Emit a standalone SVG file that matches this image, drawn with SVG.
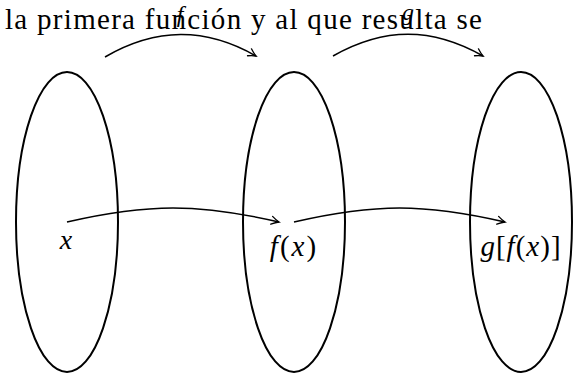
<svg xmlns="http://www.w3.org/2000/svg" width="582" height="375" viewBox="0 0 582 375">
  <style>
    .set { fill: none; stroke: #000; stroke-width: 2; }
    .arrow { fill: none; stroke: #000; stroke-width: 1.5; marker-end: url(#tip); }
    .it { font-style: italic; }
  </style>
  <defs>
    <marker id="tip" markerUnits="userSpaceOnUse" markerWidth="12" markerHeight="12" viewBox="-9 -6 10 12" refX="0" refY="0" orient="auto">
      <path d="M-7.5,-4 Q-3,-1 0,0 Q-3,1 -7.5,4" fill="none" stroke="#000" stroke-width="1.3" stroke-linecap="round"/>
    </marker>
  </defs>
  <rect width="582" height="375" fill="#fff"/>

  <g id="caption" font-family="Liberation Serif, DejaVu Serif, serif" font-size="29">
    <text x="5" y="29" textLength="477" lengthAdjust="spacing">la primera función y al que resulta se</text>
  </g>

  <g id="set-x" font-family="Liberation Serif, DejaVu Serif, serif" font-size="28">
    <ellipse class="set" cx="67" cy="222" rx="51" ry="150"/>
    <text class="it" x="66" y="249" text-anchor="middle">x</text>
  </g>

  <g id="set-fx" font-family="Liberation Serif, DejaVu Serif, serif" font-size="29">
    <ellipse class="set" cx="294" cy="222" rx="51" ry="150"/>
    <text x="294" y="256" text-anchor="middle" letter-spacing="2"><tspan class="it">f</tspan>(<tspan class="it">x</tspan>)</text>
  </g>

  <g id="set-gfx" font-family="Liberation Serif, DejaVu Serif, serif" font-size="29">
    <ellipse class="set" cx="521" cy="222" rx="51" ry="150"/>
    <text x="521" y="256" text-anchor="middle" letter-spacing="1"><tspan class="it">g</tspan>[<tspan class="it">f</tspan>(<tspan class="it">x</tspan>)]</text>
  </g>

  <g id="connectors">
    <path class="arrow" d="M105,57 C156,27.5 205,27 256,56"/>
    <path class="arrow" d="M333,56 C384,27 432,27 483,56"/>
    <path class="arrow" d="M67,222 C148,203.3 198,203.3 279,222"/>
    <path class="arrow" d="M294,222 C375,203.3 424,203.3 505,222"/>
    <text class="it" x="180" y="22" text-anchor="middle" font-family="Liberation Serif, DejaVu Serif, serif" font-size="24">f</text>
    <text class="it" x="408" y="20" text-anchor="middle" font-family="Liberation Serif, DejaVu Serif, serif" font-size="24">g</text>
  </g>
</svg>
